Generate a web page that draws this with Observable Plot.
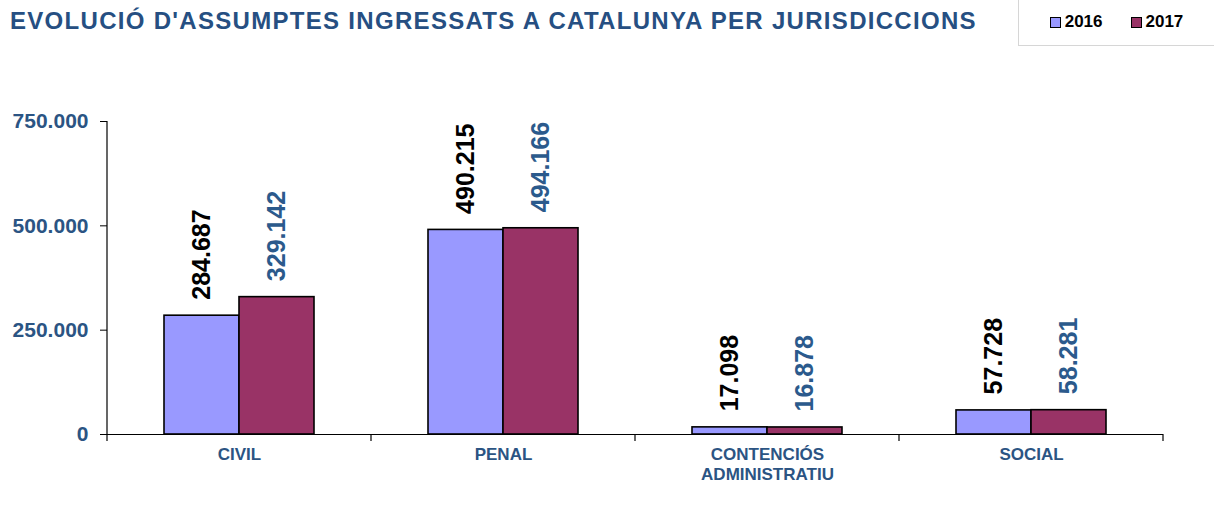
<!DOCTYPE html>
<html><head><meta charset="utf-8">
<script src="https://cdn.jsdelivr.net/npm/d3@7"></script>
<script src="https://cdn.jsdelivr.net/npm/@observablehq/plot@0.6"></script>
<style>
html,body{margin:0;padding:0;background:#fff;}
body{width:1214px;height:511px;position:relative;overflow:hidden;font-family:"Liberation Sans",Arial,sans-serif;}
#title{position:absolute;left:10px;top:7px;font-size:24px;font-weight:bold;color:#264f82;white-space:nowrap;letter-spacing:1.3px;}
#legend{position:absolute;left:1018px;top:-1px;width:196px;height:47px;border-left:1px solid #d6d6d6;border-bottom:1px solid #d6d6d6;box-sizing:border-box;display:flex;align-items:center;justify-content:center;gap:28px;font-size:17px;font-weight:bold;color:#000;}
#legend .it{display:flex;align-items:center;gap:4px;}
#legend .sw{width:9px;height:9px;border:1.5px solid #000;}
#chart{position:absolute;left:0;top:0;}
</style></head>
<body>
<div id="chart"></div>
<div id="title"></div>
<div id="legend"></div>
<script>
const titleText = "EVOLUCIÓ D'ASSUMPTES INGRESSATS A CATALUNYA PER JURISDICCIONS";
const categories = ["CIVIL", "PENAL", "CONTENCIÓS\nADMINISTRATIU", "SOCIAL"];
const years = ["2016", "2017"];
const values2016 = [284687, 490215, 17098, 57728];
const values2017 = [329142, 494166, 16878, 58281];
const yTicks = [0, 250000, 500000, 750000];
const colors = ["#9999ff", "#993366"];
const labelColors = ["#000000", "#2b5a8c"];

const loc = d3.formatLocale({decimal: ",", thousands: ".", grouping: [3], currency: ["", "€"]});
const fmt = loc.format(",d");

const data = [];
categories.forEach((c, i) => {
  data.push({cat: c, year: years[0], value: values2016[i]});
  data.push({cat: c, year: years[1], value: values2017[i]});
});

document.getElementById("title").textContent = titleText;
document.getElementById("legend").innerHTML = years.map((y, i) =>
  `<div class="it"><div class="sw" style="background:${colors[i]}"></div><span>${y}</span></div>`).join("");

const plot = Plot.plot({
  width: 1214,
  height: 511,
  marginTop: 121,
  marginBottom: 77,
  marginLeft: 107,
  marginRight: 51,
  style: {fontFamily: "'Liberation Sans', Arial, sans-serif", background: "transparent"},
  fx: {domain: categories, padding: 0, label: null},
  x: {domain: years, paddingInner: 0, paddingOuter: 0.737, axis: null},
  y: {domain: [0, 750000], label: null},
  color: {domain: years, range: colors},
  marks: [
    Plot.axisY({ticks: yTicks, tickFormat: fmt, tickSize: 7, tickPadding: 12, fontSize: 21, fontWeight: "bold", fill: "#2b5483", label: null, style: {letterSpacing: "0.5px"}}),
    Plot.axisFx({anchor: "bottom", tickSize: 0, tickPadding: 11, fontSize: 17, fontWeight: "bold", fill: "#2b5483", label: null, lineHeight: 1.2, style: {letterSpacing: "0.5px"}}),
    Plot.barY(data, {fx: "cat", x: "year", y: "value", fill: "year", stroke: "#000", strokeWidth: 1.6}),
    Plot.ruleY([0], {stroke: "#000", strokeWidth: 1.2}),
    Plot.text(data, {fx: "cat", x: "year", y: "value", text: d => fmt(d.value), rotate: -90, textAnchor: "start", lineAnchor: "middle", dy: -16, fontSize: 25, fontWeight: "bold", fill: d => labelColors[years.indexOf(d.year)]})
  ]
});
document.getElementById("chart").appendChild(plot);

// axis line and category boundary ticks, positioned from the library scales
const fx = plot.scale("fx"), y = plot.scale("y");
const svg = d3.select(plot);
const y0 = y.apply(0), yTop = y.apply(750000);
const x0 = fx.apply(categories[0]);
const bw = fx.bandwidth;
svg.append("line").attr("x1", x0).attr("x2", x0).attr("y1", yTop).attr("y2", y0 + 7).attr("stroke", "#000").attr("stroke-width", 1.2);
categories.forEach(c => {
  const xe = fx.apply(c) + bw;
  svg.append("line").attr("x1", xe).attr("x2", xe).attr("y1", y0).attr("y2", y0 + 7).attr("stroke", "#000").attr("stroke-width", 1.2);
});
</script>
</body></html>
